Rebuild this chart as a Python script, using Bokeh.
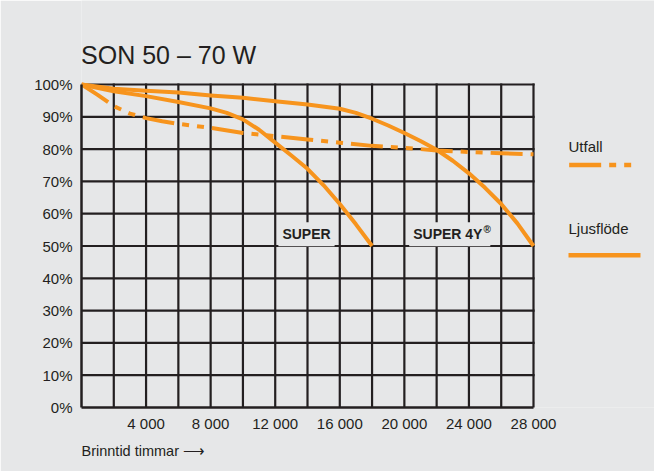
from bokeh.plotting import figure
from bokeh.models import Range1d, FixedTicker, Label, Arrow, Title
from bokeh.embed import file_html
from bokeh.resources import INLINE

# ---- data ----
title_text = "SON 50 – 70 W"
x_tick_values = [4000, 8000, 12000, 16000, 20000, 24000, 28000]
x_tick_labels = ["4 000", "8 000", "12 000", "16 000", "20 000", "24 000", "28 000"]
x_grid_values = [2000, 4000, 6000, 8000, 10000, 12000, 14000, 16000, 18000, 20000,
                 22000, 24000, 26000, 28000]
y_tick_values = [0, 10, 20, 30, 40, 50, 60, 70, 80, 90, 100]
y_tick_labels = ["0%", "10%", "20%", "30%", "40%", "50%", "60%", "70%", "80%", "90%", "100%"]
y_grid_values = [10, 20, 30, 40, 50, 60, 70, 80, 90, 100]
x_max = 28000
y_max = 100

# Utfall (survival), dash-dot curve
utfall_hours = [0, 1000, 2000, 3000, 4000, 5000, 6000, 8000, 10000, 12000, 14000,
                16000, 18000, 20000, 22000, 24000, 26000, 28000]
utfall_pct = [100, 96.8, 93.3, 91.0, 89.6, 88.6, 87.8, 86.6, 85.0, 84.0, 83.0,
              82.0, 81.0, 80.4, 79.6, 79.1, 78.7, 78.4]

# Ljusflöde SUPER
super_hours = [0, 2000, 4000, 6000, 8000, 9000, 10000, 11000, 12000, 13000, 14000,
               15000, 16000, 17000, 18000]
super_pct = [100, 97.9, 96.4, 94.6, 92.6, 91.2, 89.2, 86.0, 82.0, 78.0, 73.9,
             68.8, 63.0, 56.7, 50.0]

# Ljusflöde SUPER 4Y
super4y_hours = [0, 2000, 4000, 6000, 8000, 10000, 12000, 14000, 16000, 17000, 18000,
                 19000, 20000, 21000, 22000, 23000, 24000, 25000, 26000, 27000, 28000]
super4y_pct = [100, 98.7, 98.1, 97.5, 96.6, 95.9, 94.8, 93.8, 92.5, 91.2, 89.4,
               87.3, 85.0, 82.5, 79.8, 76.4, 72.5, 68.0, 63.0, 57.0, 50.0]

legend_labels = ["Utfall", "Ljusflöde"]
curve_labels = ["SUPER", "SUPER 4Y", "®"]
x_axis_caption = "Brinntid timmar ⟶"

# ---- style ----
BG = "#e6e7e8"
INK = "#231f20"
ORANGE = "#f7941d"
FONT = "Liberation Sans"
DASH = "32 8 7 8 7 8"

# frame: x 81..654 px, y 0..407 px; 452 px per 28000 h, 3.23 px per %
X_END = x_max * (654 - 81) / 452.0
Y_END = y_max + 84 / 3.23

p = figure(width=654, height=471, output_backend="svg", toolbar_location=None,
           x_range=Range1d(0, X_END), y_range=Range1d(0, Y_END),
           min_border_left=81, min_border_right=0, min_border_top=0, min_border_bottom=64)
p.background_fill_color = BG
p.border_fill_color = BG
p.outline_line_color = None
p.xgrid.visible = False
p.ygrid.visible = False

# axes
p.xaxis.ticker = FixedTicker(ticks=x_tick_values)
p.xaxis.major_label_overrides = {v: l for v, l in zip(x_tick_values, x_tick_labels)}
p.xaxis.bounds = (0, x_max)
p.yaxis.ticker = FixedTicker(ticks=y_tick_values)
p.yaxis.major_label_overrides = {v: l for v, l in zip(y_tick_values, y_tick_labels)}
p.yaxis.bounds = (0, y_max)
for ax in (p.xaxis[0], p.yaxis[0]):
    ax.axis_line_color = INK
    ax.axis_line_width = 2.5
    ax.major_tick_line_color = None
    ax.minor_tick_line_color = None
    ax.major_label_text_font = FONT
    ax.major_label_text_font_size = "15px"
    ax.major_label_text_color = INK
p.xaxis.major_label_standoff = 1
p.yaxis.major_label_standoff = 3

# caption below the x axis
p.add_layout(Title(text=x_axis_caption, align="left", text_font=FONT,
                   text_font_size="14.5px", text_font_style="normal",
                   text_color=INK, standoff=13), "below")

# grid (within the 0..28000 x 0..100 chart area)
p.segment(x0=x_grid_values, y0=[0] * len(x_grid_values),
          x1=x_grid_values, y1=[y_max] * len(x_grid_values),
          line_color=INK, line_width=2.2, line_cap="square")
p.segment(x0=[0] * len(y_grid_values), y0=y_grid_values,
          x1=[x_max] * len(y_grid_values), y1=y_grid_values,
          line_color=INK, line_width=2.2, line_cap="square")

# curves
p.line(super_hours, super_pct, line_color=ORANGE, line_width=4, line_join="round")
p.line(super4y_hours, super4y_pct, line_color=ORANGE, line_width=4, line_join="round")
p.line(utfall_hours, utfall_pct, line_color=ORANGE, line_width=4, line_dash=DASH,
       line_join="round")

# curve labels with background boxes
p.add_layout(Label(x=13938, y=53.6, text=curve_labels[0], text_font=FONT,
                   text_font_style="bold", text_font_size="14px", text_color=INK,
                   text_align="center", text_baseline="middle",
                   background_fill_color=BG, padding=4))
p.add_layout(Label(x=20300, y=53.6, text=curve_labels[1] + " ", text_font=FONT,
                   text_font_style="bold", text_font_size="14px", text_color=INK,
                   text_align="left", text_baseline="middle",
                   background_fill_color=BG, padding=4))
p.add_layout(Label(x=24903, y=56.8, text=curve_labels[2], text_font=FONT,
                   text_font_style="bold", text_font_size="10px", text_color=INK,
                   text_align="left", text_baseline="top"))

# title
p.add_layout(Label(x=-30, y=109.2, text=title_text, text_font=FONT,
                   text_font_size="25px", text_color=INK, text_baseline="alphabetic"))

# legend
p.add_layout(Label(x=30168, y=80.8, text=legend_labels[0], text_font=FONT,
                   text_font_size="15px", text_color=INK, text_baseline="middle"))
p.add_layout(Label(x=30168, y=55.4, text=legend_labels[1], text_font=FONT,
                   text_font_size="15px", text_color=INK, text_baseline="middle"))
p.add_layout(Arrow(end=None, x_start=30210, y_start=75.1, x_end=34070, y_end=75.1,
                   line_color=ORANGE, line_width=4.5, line_dash=DASH))
p.add_layout(Arrow(end=None, x_start=30168, y_start=47.1, x_end=34628, y_end=47.1,
                   line_color=ORANGE, line_width=4.5))

open("out.html", "w").write(file_html(p, INLINE))
